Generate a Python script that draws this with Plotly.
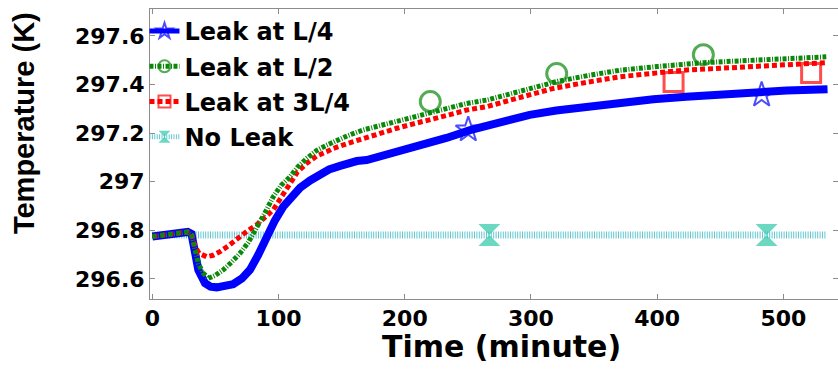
import plotly.graph_objects as go

# ---------------- data ----------------
t_l4 = [0, 10, 20, 28, 31, 33.8, 36.4, 41.7, 46, 51, 57, 64, 71, 77.3, 84, 90.6, 97, 103.7, 110,
        117, 125, 132.8, 140, 148.7, 154, 162, 169.8, 178, 188.3, 200, 212, 233, 251.7, 275, 299,
        320, 344, 370, 397, 423, 449.8, 484, 502.6, 535]
temp_l4 = [296.774, 296.782, 296.79, 296.793, 296.785, 296.72, 296.637, 296.582, 296.568, 296.565,
           296.568, 296.578, 296.602, 296.637, 296.7, 296.774, 296.84, 296.897, 296.94, 296.975,
           297.005, 297.03, 297.05, 297.065, 297.076, 297.085, 297.089, 297.1, 297.117, 297.135,
           297.153, 297.18, 297.212, 297.245, 297.275, 297.293, 297.309, 297.325, 297.339, 297.35,
           297.36, 297.368, 297.375, 297.381]
mk_t_l4 = [250.3, 482.8]
mk_temp_l4 = [297.214, 297.357]

t_l2 = [0, 10, 20, 28, 31, 34, 36.4, 40, 44.3, 50, 56.2, 62, 69.4, 76, 82.6, 89, 95.8, 102, 109,
        115, 122.3, 130, 138, 145, 155, 167, 180, 193.6, 206, 220.6, 235, 249, 265, 290, 321, 345,
        370.5, 400, 423.4, 437, 476, 505, 534]
temp_l2 = [296.774, 296.782, 296.79, 296.793, 296.78, 296.71, 296.664, 296.625, 296.602, 296.615,
           296.637, 296.665, 296.705, 296.75, 296.808, 296.87, 296.938, 296.985, 297.02, 297.06,
           297.096, 297.128, 297.15, 297.168, 297.19, 297.213, 297.23, 297.247, 297.265, 297.282,
           297.3, 297.322, 297.336, 297.372, 297.413, 297.437, 297.459, 297.474, 297.484, 297.49,
           297.5, 297.508, 297.514]
mk_t_l2 = [220.2, 320.4, 436.6]
mk_temp_l2 = [297.33, 297.445, 297.523]

t_3l4 = [0, 10, 20, 28, 31, 33.8, 37, 43, 48, 53.6, 60, 69.4, 76, 82.6, 89, 95.8, 102, 109, 115,
         122.3, 130, 138, 143.4, 155, 167, 180, 193.6, 206, 220, 235, 249, 265, 290, 317.7, 345,
         370.5, 400, 423.4, 450, 476, 505, 534]
temp_3l4 = [296.774, 296.782, 296.79, 296.793, 296.785, 296.733, 296.705, 296.691, 296.697, 296.712,
            296.735, 296.774, 296.8, 296.822, 296.85, 296.884, 296.935, 296.99, 297.04, 297.076,
            297.105, 297.123, 297.137, 297.158, 297.178, 297.2, 297.22, 297.237, 297.254, 297.275,
            297.295, 297.309, 297.345, 297.384, 297.41, 297.432, 297.448, 297.46, 297.467, 297.473,
            297.482, 297.49]
mk_t_3l4 = [413.0, 522.0]
mk_temp_3l4 = [297.41, 297.447]

t_none = [0, 534]
temp_none = [296.78, 296.78]
mk_t_none = [267.0, 486.7]
mk_temp_none = [296.78, 296.78]

series_names = ["Leak at L/4", "Leak at L/2", "Leak at 3L/4", "No Leak"]
x_ticks = [0, 100, 200, 300, 400, 500]
x_ticklabels = ["0", "100", "200", "300", "400", "500"]
y_ticks = [296.6, 296.8, 297.0, 297.2, 297.4, 297.6]
y_ticklabels = ["296.6", "296.8", "297", "297.2", "297.4", "297.6"]

# ---------------- figure ----------------
BOLD = "DejaVu Sans"


def series(t, v, mt, mv, name, color, width, dash, symbol, msize, mlw, rank, mcolor=None):
    x = list(t)
    y = list(v)
    sizes = [0] * len(t)
    for a, b in zip(mt, mv):
        x += [None, a]
        y += [None, b]
        sizes += [0, msize]
    mc = mcolor or color
    return go.Scatter(
        x=x, y=y, name=name, mode="lines+markers", legendrank=rank, legendgroup=name,
        line=dict(color=color, width=width, dash=dash),
        marker=dict(symbol=symbol, size=sizes, color=mc, line=dict(color=mc, width=mlw)),
        connectgaps=False, hoverinfo="skip",
    )


fig = go.Figure()
fig.add_trace(series(t_none, temp_none, mk_t_none, mk_temp_none, series_names[3], "#62c8d2", 7,
                     "1px,1.4px", "hourglass", 22, 0, 4, mcolor="#2ec7a6"))
fig.add_trace(series(t_l4, temp_l4, mk_t_l4, mk_temp_l4, series_names[0], "#0000ff", 8,
                     "solid", "star-open", 19, 2, 1))
fig.add_trace(series(t_3l4, temp_3l4, mk_t_3l4, mk_temp_3l4, series_names[2], "#ff0000", 5,
                     "5px,3px", "square-open", 19, 3, 3))
fig.add_trace(series(t_l2, temp_l2, mk_t_l2, mk_temp_l2, series_names[1], "#0a880a", 5,
                     "4px,1.5px,1px,1.5px", "circle-open", 20, 3, 2))

axis_common = dict(
    showgrid=False, zeroline=False, showline=True, linecolor="#8c8c8c", linewidth=1,
    mirror="ticks", ticks="inside", ticklen=5, tickcolor="#8c8c8c", tickwidth=1,
    automargin=False,
    tickfont=dict(family=BOLD, size=22, color="black", weight="bold"),
)

fig.update_layout(
    width=838, height=369,
    margin=dict(l=150, r=0, t=9, b=70, autoexpand=False),
    paper_bgcolor="white", plot_bgcolor="white",
    showlegend=True,
    legend=dict(
        x=-0.008, y=1.0, xanchor="left", yanchor="top",
        bgcolor="rgba(0,0,0,0)", borderwidth=0,
        font=dict(family=BOLD, size=24, color="black", weight="bold"),
        itemsizing="constant", tracegroupgap=1, traceorder="grouped",
    ),
    xaxis=dict(range=[-1.9, 543.3], tickvals=x_ticks, ticktext=x_ticklabels, **axis_common),
    yaxis=dict(range=[296.517, 297.711], tickvals=y_ticks, ticktext=y_ticklabels, **axis_common),
    annotations=[
        dict(text="Time (minute)", xref="paper", yref="paper", x=0.5116, y=-0.163,
             xanchor="center", yanchor="middle", showarrow=False,
             font=dict(family=BOLD, size=30, color="black", weight="bold")),
        dict(text="Temperature (K)", xref="paper", yref="paper", x=-0.183, y=0.607,
             xanchor="center", yanchor="middle", showarrow=False, textangle=-90,
             font=dict(family="Liberation Sans", size=29, color="black", weight="bold")),
    ],
)

fig.write_html(
    "out.html",
    config={"displayModeBar": False},
    post_script="document.body.style.margin='0';document.body.style.overflow='hidden';",
)
